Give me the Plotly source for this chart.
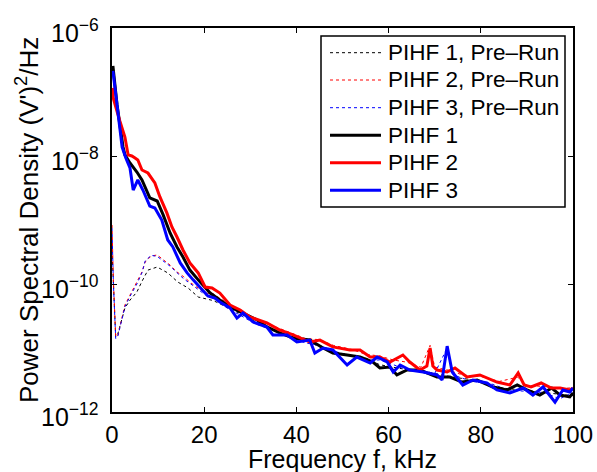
import plotly.graph_objects as go

# ---- Data (frequency in kHz, PSD in (V')^2/Hz) ----
f_black = [0.2, 1.1, 2.4, 2.8, 3.9, 5.4, 6.5, 8.2, 9.8, 11.1, 12.6, 14.1, 15.4, 16.9, 18.7,
           20.2, 21.3, 23.4, 25.6, 28.4, 31.5, 33.6, 36.4, 39.3, 42.9, 45.8, 47.9, 51.0, 53.8,
           56.6, 58.1, 60.3, 61.8, 64.0, 66.8, 70.5, 73.3, 75.9, 79.2, 82.6, 85.7, 87.9, 90.0,
           92.8, 95.4, 97.2, 99.3, 100.0]
psd_black = [2.55e-7, 6.26e-8, 1.38e-8, 1.04e-8, 7.77e-9, 5.62e-9, 4.22e-9, 2.21e-9, 1.98e-9,
             1.20e-9, 6.26e-10, 3.79e-10, 2.64e-10, 1.65e-10, 1.16e-10, 8.66e-11, 7.23e-11,
             5.62e-11, 4.37e-11, 3.52e-11, 2.74e-11, 2.13e-11, 1.72e-11, 1.43e-11, 1.33e-11,
             1.00e-11, 8.35e-12, 7.77e-12, 7.23e-12, 6.04e-12, 4.87e-12, 5.05e-12, 3.79e-12,
             4.53e-12, 4.53e-12, 3.52e-12, 3.52e-12, 2.94e-12, 3.16e-12, 2.46e-12, 2.21e-12,
             2.64e-12, 2.21e-12, 1.84e-12, 2.37e-12, 1.84e-12, 1.72e-12, 1.98e-12]

f_red = [0.1, 0.2, 1.7, 2.8, 3.5, 4.3, 5.0, 5.6, 6.5, 7.8, 9.3, 10.4, 11.9, 13.0, 14.1, 15.4,
         16.9, 18.7, 20.2, 21.7, 23.4, 25.6, 27.8, 29.9, 33.6, 36.4, 39.3, 42.9, 45.1, 47.9,
         51.6, 53.8, 56.0, 58.1, 60.3, 63.1, 64.6, 66.8, 68.3, 69.0, 69.6, 70.5, 72.7, 74.4,
         77.0, 79.8, 83.5, 86.3, 88.1, 89.4, 90.9, 93.1, 95.3, 97.2, 99.3, 100.0]
psd_red = [1.16e-7, 8.35e-8, 3.52e-8, 1.98e-8, 1.04e-8, 1.00e-8, 9.31e-9, 8.66e-9, 6.04e-9,
           5.42e-9, 3.79e-9, 2.29e-9, 1.29e-9, 7.77e-10, 5.42e-10, 3.40e-10, 2.13e-10,
           1.49e-10, 8.97e-11, 8.66e-11, 7.23e-11, 4.70e-11, 3.93e-11, 3.05e-11, 2.46e-11,
           1.91e-11, 1.60e-11, 1.24e-11, 1.33e-11, 1.04e-11, 9.31e-12, 9.31e-12, 7.23e-12,
           7.23e-12, 6.04e-12, 7.77e-12, 6.04e-12, 4.53e-12, 5.23e-12, 1.00e-11, 5.23e-12,
           4.53e-12, 4.22e-12, 4.87e-12, 3.52e-12, 3.79e-12, 2.94e-12, 2.64e-12, 4.07e-12,
           2.64e-12, 2.46e-12, 2.84e-12, 2.37e-12, 2.37e-12, 2.21e-12, 2.37e-12]

f_blue = [0.2, 1.3, 2.2, 3.0, 3.9, 4.6, 5.6, 6.7, 8.2, 9.3, 10.8, 12.1, 13.2, 14.8, 16.3, 17.6,
          19.5, 20.8, 22.3, 23.4, 25.6, 27.1, 28.4, 30.6, 33.6, 34.9, 38.0, 40.1, 42.9, 44.0,
          45.8, 47.9, 51.0, 53.1, 56.0, 57.5, 59.7, 61.0, 62.5, 64.6, 67.5, 70.5, 71.6, 72.7,
          73.8, 76.1, 78.3, 81.3, 83.5, 86.3, 89.2, 91.3, 93.5, 96.1, 97.8, 99.3, 100.0]
psd_blue = [2.13e-7, 5.23e-8, 1.38e-8, 9.31e-9, 6.49e-9, 2.94e-9, 4.22e-9, 2.94e-9, 1.65e-9,
            1.54e-9, 1.00e-9, 4.87e-10, 3.79e-10, 2.13e-10, 1.49e-10, 1.16e-10, 8.06e-11,
            6.49e-11, 6.04e-11, 5.23e-11, 4.22e-11, 2.94e-11, 3.52e-11, 2.55e-11, 2.13e-11,
            1.60e-11, 1.60e-11, 1.24e-11, 1.33e-11, 8.35e-12, 1.00e-11, 9.31e-12, 5.42e-12,
            7.23e-12, 5.83e-12, 7.23e-12, 6.04e-12, 4.22e-12, 5.42e-12, 4.53e-12, 4.22e-12,
            3.79e-12, 3.16e-12, 1.07e-11, 4.22e-12, 2.64e-12, 3.16e-12, 2.84e-12, 2.21e-12,
            1.98e-12, 2.37e-12, 1.84e-12, 2.46e-12, 1.43e-12, 2.21e-12, 2.05e-12, 2.37e-12]

f_pre_black = [0.0, 0.3, 0.8, 1.3, 2.8, 3.9, 5.4, 6.5, 7.8, 9.8, 12.1, 14.3, 16.5, 18.7, 20.2,
               22, 25, 28, 31, 35, 38, 42, 45, 48, 52, 55, 58, 61, 64, 67, 70, 74, 78, 82, 86,
               90, 94, 97, 100]
psd_pre_black = [3.40e-10, 8.0e-11, 1.49e-11, 1.7e-11, 4.2e-11, 5.6e-11, 7.5e-11, 1.1e-10,
                 1.65e-10, 1.84e-10, 1.49e-10, 1.07e-10, 8.66e-11, 6.26e-11, 5.83e-11,
                 5.5e-11, 4.3e-11, 3.4e-11, 2.6e-11, 2.0e-11, 1.6e-11, 1.3e-11, 1.05e-11,
                 8.8e-12, 7.6e-12, 7.0e-12, 5.5e-12, 5.0e-12, 4.6e-12, 4.4e-12, 4.0e-12,
                 3.5e-12, 3.2e-12, 2.6e-12, 2.3e-12, 2.2e-12, 2.0e-12, 1.9e-12, 1.8e-12]

f_pre_red = [0.0, 0.3, 0.8, 1.3, 2.8, 3.9, 5.4, 6.5, 7.2, 8.5, 9.8, 11.1, 12.6, 14.1, 15.6,
             17.1, 18.7, 20.2, 22, 25, 28, 31, 35, 38, 42, 45, 48, 52, 55, 58, 61, 64, 67,
             69, 70, 73, 76, 80, 84, 88, 90, 94, 97, 100]
psd_pre_red = [8.35e-10, 1.16e-10, 1.49e-11, 1.6e-11, 4.7e-11, 6.73e-11, 1.04e-10, 1.54e-10,
               2.21e-10, 2.74e-10, 2.84e-10, 2.37e-10, 1.98e-10, 1.54e-10, 1.29e-10,
               1.04e-10, 8.66e-11, 7.23e-11, 7.0e-11, 5.0e-11, 3.8e-11, 2.9e-11, 2.2e-11,
               1.8e-11, 1.4e-11, 1.35e-11, 1.1e-11, 9.5e-12, 8.0e-12, 7.5e-12, 6.5e-12,
               6.0e-12, 5.0e-12, 1.1e-11, 5.0e-12, 4.5e-12, 3.8e-12, 3.6e-12, 3.0e-12,
               3.5e-12, 2.6e-12, 2.5e-12, 2.3e-12, 2.4e-12]

f_pre_blue = [0.0, 0.3, 0.8, 1.3, 2.8, 3.9, 5.4, 6.5, 7.2, 8.5, 9.8, 11.1, 12.6, 14.1, 15.6,
              17.1, 18.7, 20.2, 22, 25, 28, 31, 35, 38, 42, 45, 48, 52, 55, 58, 61, 64, 67,
              70, 72.7, 74, 78, 82, 86, 90, 94, 97, 100]
psd_pre_blue = [7.5e-10, 1.05e-10, 1.4e-11, 1.55e-11, 4.4e-11, 6.4e-11, 1.0e-10, 1.5e-10,
                2.3e-10, 2.8e-10, 2.7e-10, 2.3e-10, 1.9e-10, 1.5e-10, 1.2e-10, 1.0e-10,
                8.2e-11, 6.8e-11, 6.0e-11, 4.2e-11, 3.2e-11, 2.4e-11, 1.9e-11, 1.5e-11,
                1.2e-11, 1.1e-11, 9.0e-12, 7.5e-12, 6.5e-12, 6.5e-12, 5.5e-12, 4.5e-12,
                4.5e-12, 4.0e-12, 1.0e-11, 3.8e-12, 3.0e-12, 2.8e-12, 2.2e-12, 2.1e-12,
                2.0e-12, 1.6e-12, 2.0e-12]

series_names = ["PIHF 1, Pre\u2013Run", "PIHF 2, Pre\u2013Run", "PIHF 3, Pre\u2013Run",
                "PIHF 1", "PIHF 2", "PIHF 3"]
series_colors = ["black", "red", "blue", "black", "red", "blue"]

x_ticks = [0, 20, 40, 60, 80, 100]
y_tick_exp = [-12, -10, -8, -6]
y_tick_text = ["10<sup>\u221212</sup>", "10<sup>\u221210</sup>",
               "10<sup>\u22128</sup>", "10<sup>\u22126</sup>"]
x_title = "Frequency f, kHz"
y_title = "Power Spectral Density (V')<sup>2</sup>/Hz"

FONT = "Liberation Sans, Arial, Helvetica, sans-serif"

# ---- figure geometry (pixels) ----
W, H = 597, 472
ML, MR, MT, MB = 112, 24, 28, 60
PW, PH = W - ML - MR, H - MT - MB


def px(xp):
    return (xp - ML) / PW


def py(yp):
    return (H - MB - yp) / PH


fig = go.Figure()

data = [(f_pre_black, psd_pre_black), (f_pre_red, psd_pre_red), (f_pre_blue, psd_pre_blue),
        (f_black, psd_black), (f_red, psd_red), (f_blue, psd_blue)]
for i, (fx, fy) in enumerate(data):
    is_pre = i < 3
    fig.add_trace(go.Scatter(
        x=fx, y=fy, mode="lines", name=series_names[i], showlegend=False,
        line=dict(color=series_colors[i], width=1 if is_pre else 3,
                  dash="dot" if is_pre else "solid")))

# ---- legend drawn in paper coordinates (MATLAB-like compact box) ----
shapes = [dict(type="rect", xref="paper", yref="paper",
               x0=px(321), x1=px(565), y0=py(207), y1=py(36),
               line=dict(color="black", width=1.5), fillcolor="white", layer="above")]
annotations = []
row_y = [52.7, 80.0, 107.7, 135.3, 162.7, 190.3]
for i, name in enumerate(series_names):
    is_pre = i < 3
    shapes.append(dict(type="line", xref="paper", yref="paper",
                       x0=px(330), x1=px(381), y0=py(row_y[i]), y1=py(row_y[i]),
                       line=dict(color=series_colors[i], width=1 if is_pre else 3,
                                 dash="dot" if is_pre else "solid"),
                       layer="above"))
    annotations.append(dict(xref="paper", yref="paper", x=px(386), y=py(row_y[i]),
                            text=name, showarrow=False, xanchor="left", yanchor="middle",
                            font=dict(family=FONT, size=22.5, color="black")))

# y tick labels (right-aligned, MATLAB style) -- on a log axis annotation y is log10
for e, t in zip(y_tick_exp, y_tick_text):
    annotations.append(dict(xref="paper", yref="y", x=px(101), y=e, text=t,
                            showarrow=False, xanchor="right", yanchor="middle", yshift=-3,
                            font=dict(family=FONT, size=25, color="black")))

# axis titles placed explicitly (MATLAB-like tight spacing)
annotations.append(dict(xref="paper", yref="paper", x=0.5, y=py(459), text=x_title,
                        showarrow=False, xanchor="center", yanchor="middle",
                        font=dict(family=FONT, size=25, color="black")))
annotations.append(dict(xref="paper", yref="paper", x=px(27), y=0.5, text=y_title,
                        textangle=-90, showarrow=False, xanchor="center", yanchor="middle",
                        font=dict(family=FONT, size=26, color="black")))

fig.update_layout(
    width=W, height=H,
    margin=dict(l=ML, r=MR, t=MT, b=MB, autoexpand=False),
    paper_bgcolor="white", plot_bgcolor="white",
    font=dict(family=FONT, size=24, color="black"),
    showlegend=False,
    shapes=shapes, annotations=annotations,
    xaxis=dict(range=[0, 100], tickvals=x_ticks, ticks="inside", ticklen=5,
               tickcolor="black", showline=True, linecolor="black", linewidth=1.5,
               mirror="ticks", showgrid=False, zeroline=False, ticklabelstandoff=0,
               automargin=False, tickfont=dict(family=FONT, size=24)),
    yaxis=dict(type="log", range=[-12, -6], tickvals=[10.0 ** e for e in y_tick_exp],
               showticklabels=False,
               ticks="inside", ticklen=5, tickcolor="black", showline=True,
               linecolor="black", linewidth=1.5, mirror="ticks", showgrid=False,
               zeroline=False, automargin=False),
)

fig.write_html("out.html")
